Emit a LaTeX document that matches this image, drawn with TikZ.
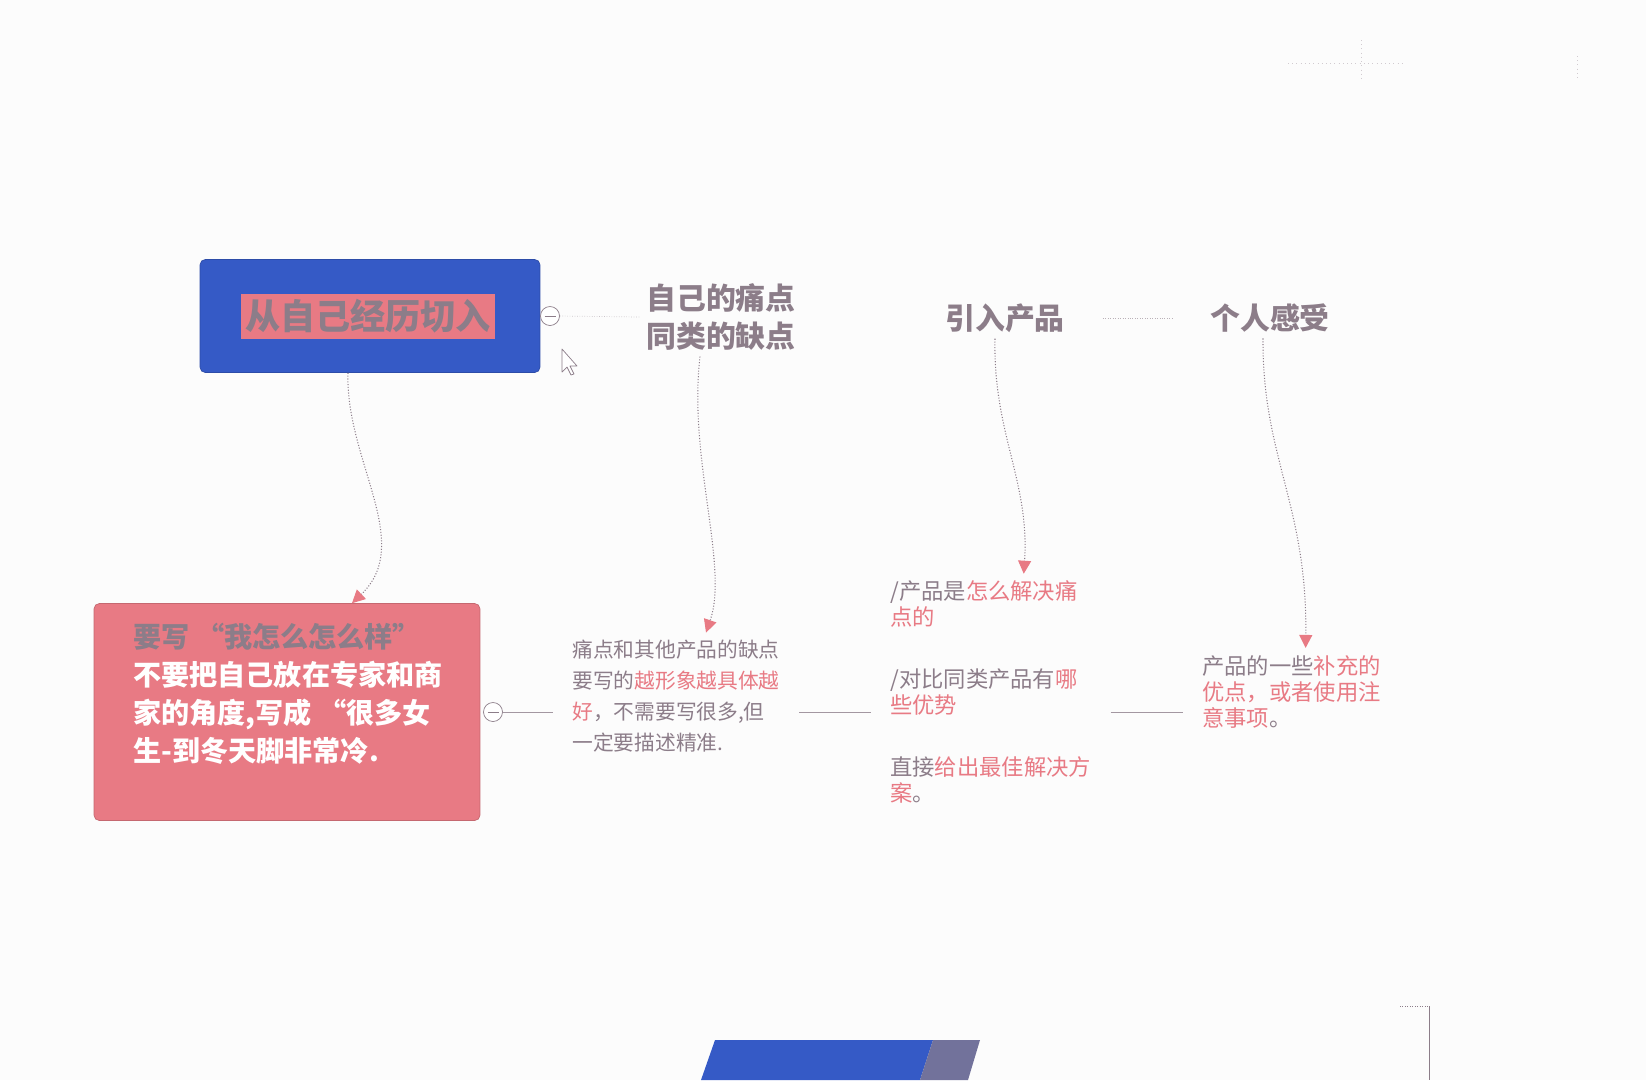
\documentclass[tikz,border=0pt]{standalone}
\usepackage{fontspec}
\setmainfont{Noto Sans CJK SC}
\usepackage{xcolor}
\usetikzlibrary{arrows.meta}
\definecolor{mapblue}{RGB}{53,90,198}
\definecolor{mappink}{RGB}{232,122,132}
\definecolor{mapgray}{RGB}{140,125,137}
\definecolor{paper}{RGB}{252,252,252}
\newcommand{\hl}[1]{\textcolor{mappink}{#1}}

\begin{document}
\begin{tikzpicture}[x=0.02cm, y=-0.02cm,
  topbox/.style={fill=mapblue, draw=mapblue!85!black, rounded corners=3pt,
                 minimum width=6.8cm, minimum height=2.26cm},
  toplbl/.style={fill=mappink, text=mapgray, font=\fontsize{20pt}{24pt}\selectfont\bfseries,
                 minimum width=5.1cm, minimum height=0.9cm, inner sep=1pt},
  head/.style={text=mapgray, font=\fontsize{17pt}{21.6pt}\selectfont\bfseries, align=center},
  fold/.style={circle, draw=mapgray, fill=white, minimum size=0.38cm, inner sep=0pt},
  note/.style={fill=mappink, draw=mappink!85!black, rounded corners=3pt,
               minimum width=7.72cm, minimum height=4.34cm},
  memo/.style={text=mapgray, align=left, anchor=west, inner xsep=0.38cm, inner ysep=4pt},
  wave/.style={mapgray, densely dotted, semithick,
               -{Triangle[length=2.6mm,width=2.6mm,color=mappink]}},
  link/.style={mapgray!80, thin}]
\path[use as bounding box, fill=paper] (0,0) rectangle (1646,1080);
% top row
\node[topbox] (start) at (370,316) {};
\node[toplbl] (startlbl) at (368,316) {从自己经历切入};
\node[fold] (c1) at (550,316) {};
\draw[mapgray] ([xshift=-0.11cm]c1.center) -- ([xshift=0.11cm]c1.center);
\node[head] (pain) at (721,317) {自己的痛点\\同类的缺点};
\node[head] (product) at (1005,318) {引入产品};
\node[head] (feel) at (1270,318) {个人感受};
\draw[mapgray!45, densely dotted] (c1.east) -- (pain.west);
\draw[mapgray!60, densely dotted, shorten <=0.64cm, shorten >=0.64cm] (product) -- (feel);
% mouse pointer
\draw[mapgray, fill=white, line join=round] (562,349) -- (562,372) -- (567,367) -- (571,375)
  -- (574,374) -- (570,366) -- (577,366) -- cycle;
% bottom row
\node[note] (detail1) at (287,712) {};
\node[text=white, font=\fontsize{16pt}{21.6pt}\selectfont\bfseries, align=left, anchor=west, inner sep=0pt]
  (detail1txt) at (133,694) {\textcolor{mapgray}{要写 “我怎么怎么样”}\\不要把自己放在专家和商\\家的角度,写成 “很多女\\生-到冬天脚非常冷.};
\node[fold] (c2) at (493,712) {};
\draw[mapgray] ([xshift=-0.11cm]c2.center) -- ([xshift=0.11cm]c2.center);
\node[memo, font=\fontsize{11.8pt}{17.6pt}\selectfont] (detail2) at (553,696)
  {痛点和其他产品的缺点\\要写的\hl{越形象越具体越}\\\hl{好}，不需要写很多,但\\一定要描述精准.};
\node[memo, font=\fontsize{12.7pt}{14.5pt}\selectfont] (detail3) at (871,692)
  {/产品是\hl{怎么解决痛}\\\hl{点的}\\[21pt]/对比同类产品有\hl{哪}\\\hl{些优势}\\[21pt]直接\hl{给出最佳解决方}\\\hl{案}。};
\node[memo, font=\fontsize{12.7pt}{15pt}\selectfont] (detail4) at (1183,692)
  {产品的一些\hl{补充的}\\\hl{优点，或者使用注}\\\hl{意事项}。};
\draw[link] (c2.east) -- (detail2.west |- c2);
\draw[link] (detail2.east |- c2) -- (detail3.west |- c2);
\draw[link] (detail3.east |- c2) -- (detail4.west |- c2);
% wavy connectors
\draw[wave] ([xshift=-0.44cm]start.south) .. controls +(-3,87) and +(63,-60) .. ([xshift=1.3cm]detail1.north);
\draw[wave] ([xshift=-0.42cm]pain.south) .. controls +(-12,102) and +(23,-67) .. ([xshift=0.6cm]detail2.north);
\draw[wave] ([xshift=-0.2cm]product.south) .. controls +(-2,95) and +(6,-93) .. ([xshift=0.66cm]detail3.north);
\draw[wave] ([xshift=-0.14cm]feel.south) .. controls +(-1,118) and +(2,-142) .. ([xshift=0.28cm]detail4.north);
% edges of the screen
\fill[mapblue] (715,1040) -- (933,1040) -- (920,1080) -- (701,1080) -- cycle;
\fill[mapgray!70!mapblue] (933,1040) -- (980,1040) -- (968,1080) -- (920,1080) -- cycle;
\draw[mapgray, densely dotted] (1400,1006) -- (1429,1006);
\draw[mapgray] (1429,1006) -- (1429,1080);
\draw[mapgray!40, dotted] (1288,63) -- (1402,63);
\draw[mapgray!40, dotted] (1361,40) -- (1361,78);
\draw[mapgray!40, dotted] (1577,56) -- (1577,80);
\end{tikzpicture}
\end{document}
